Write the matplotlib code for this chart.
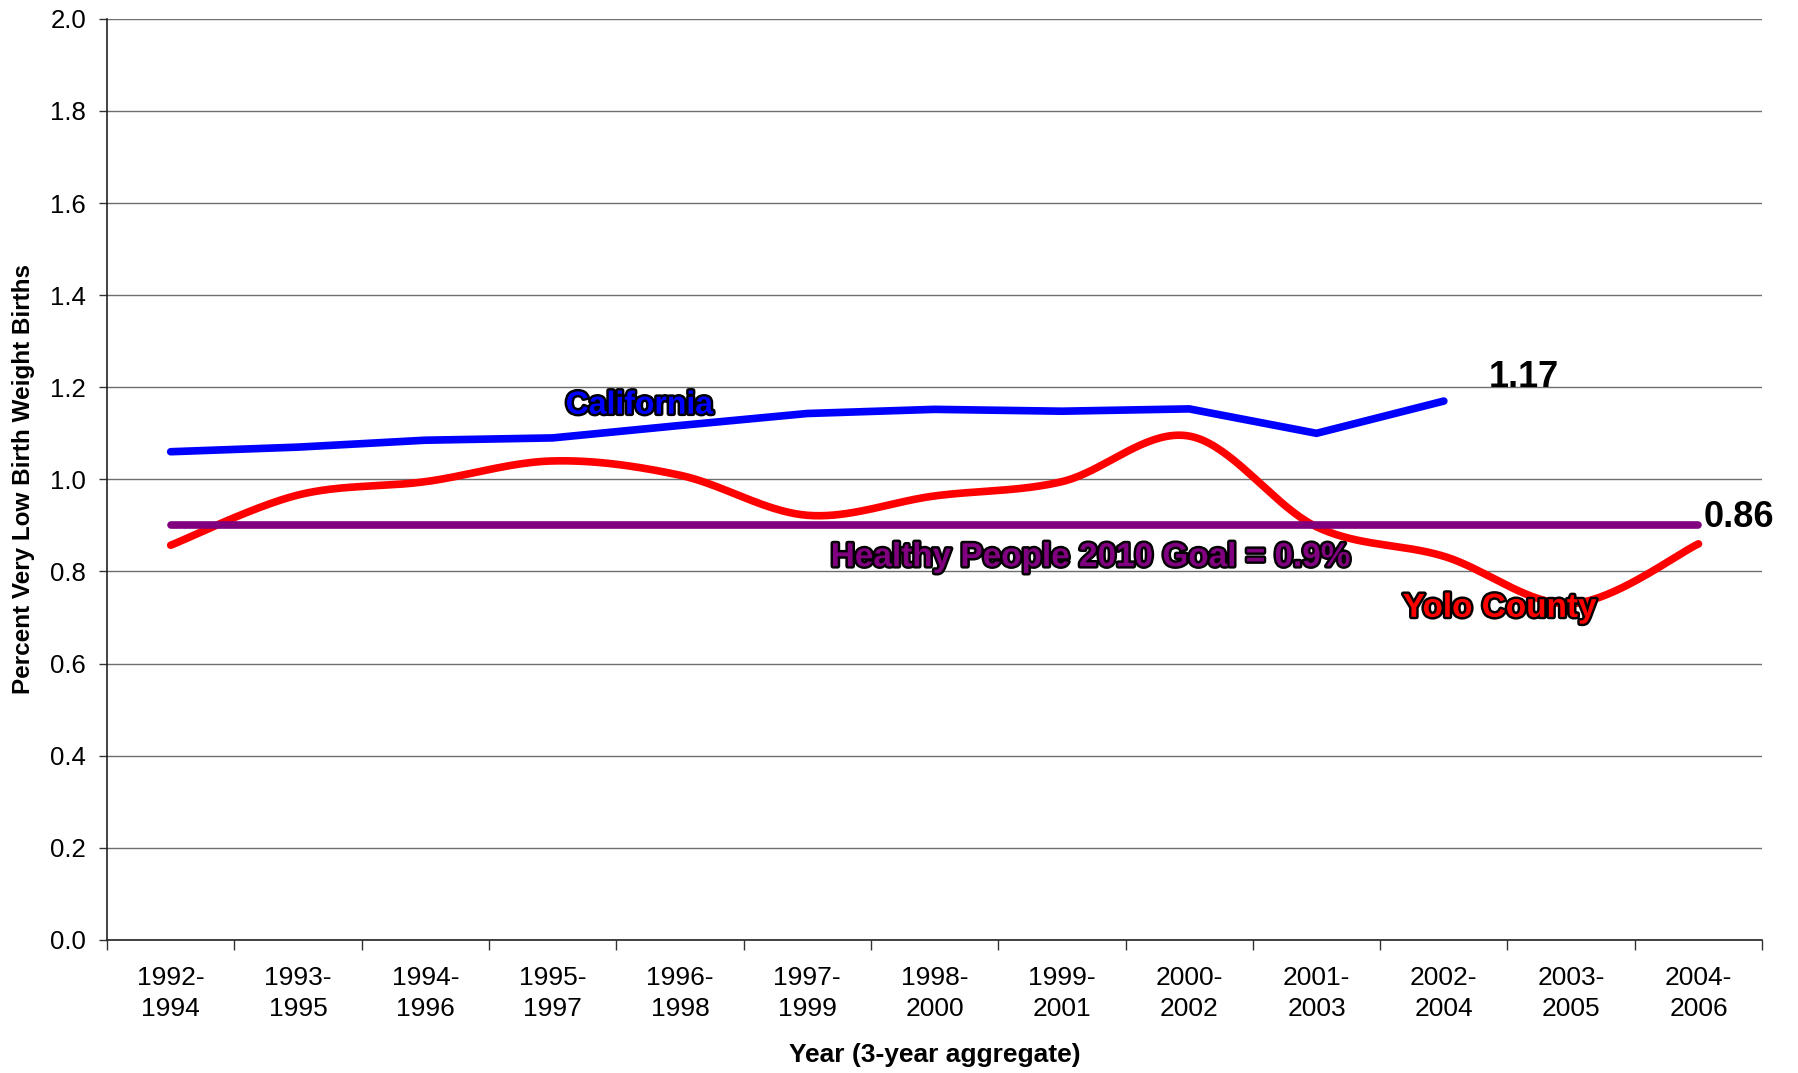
import numpy as np
import matplotlib
matplotlib.use("Agg")
import matplotlib.pyplot as plt
import matplotlib.patheffects as pe
from matplotlib.ticker import FixedLocator, MultipleLocator

# ─── Data ────────────────────────────────────────────────────────────────────
periods = ["1992-\n1994", "1993-\n1995", "1994-\n1996", "1995-\n1997",
           "1996-\n1998", "1997-\n1999", "1998-\n2000", "1999-\n2001",
           "2000-\n2002", "2001-\n2003", "2002-\n2004", "2003-\n2005",
           "2004-\n2006"]
california = [1.06, 1.07, 1.085, 1.09, 1.117, 1.143, 1.152, 1.148, 1.153,
              1.10, 1.17]
yolo = [0.857, 0.966, 0.995, 1.04, 1.009, 0.922, 0.964, 0.995, 1.094,
        0.897, 0.833, 0.73, 0.86]
hp_goal = 0.9

SANS = ["Liberation Sans", "DejaVu Sans"]
NARROW = ["Liberation Sans Narrow", "Liberation Sans", "DejaVu Sans"]


def _smooth(xs, ys, n=40):
    """Excel-style smoothed line: cubic Bezier with 1/6 tangents."""
    pts = np.column_stack([xs, ys]).astype(float)
    ext = np.vstack([pts[0], pts, pts[-1]])
    t = np.linspace(0, 1, n)[:, None]
    out = []
    for i in range(len(pts) - 1):
        p0, p1, p2, p3 = ext[i], ext[i + 1], ext[i + 2], ext[i + 3]
        c1 = p1 + (p2 - p0) / 6
        c2 = p2 - (p3 - p1) / 6
        seg = ((1 - t) ** 3 * p1 + 3 * (1 - t) ** 2 * t * c1
               + 3 * (1 - t) * t ** 2 * c2 + t ** 3 * p2)
        out.append(seg if i == 0 else seg[1:])
    return np.vstack(out)


# ─── Figure ──────────────────────────────────────────────────────────────────
fig = plt.figure(figsize=(17.99, 10.73), dpi=100)
ax = fig.add_axes([0.0595, 0.124, 0.92, 0.8585])

x = np.arange(len(periods))

ax.plot(x[:len(california)], california, color="#0000FF", lw=5.5,
        solid_capstyle="round", solid_joinstyle="miter", zorder=3)
yl = _smooth(x, yolo)
ax.plot(yl[:, 0], yl[:, 1], color="#FF0000", lw=5.5,
        solid_capstyle="round", zorder=3)
ax.plot([x[0], x[-1]], [hp_goal, hp_goal], color="#800080", lw=5.5,
        solid_capstyle="round", zorder=4)

# ── Labels on the lines ──────────────────────────────────────────────────────
outline = [pe.withStroke(linewidth=3.5, foreground="black")]
ax.text(3.68, 1.16, "California", color="#0000FF", fontsize=23,
        fontweight="bold", family=NARROW, ha="center", va="center",
        path_effects=outline, zorder=6)
ax.text(7.23, 0.83, "Healthy People 2010 Goal = 0.9%", color="#800080",
        fontsize=24, fontweight="bold", family=NARROW, ha="center",
        va="center", path_effects=outline, zorder=6)
ax.text(10.44, 0.72, "Yolo County", color="#FF0000", fontsize=24,
        fontweight="bold", family=SANS, ha="center", va="center",
        path_effects=outline, zorder=6)
ax.text(10.63, 1.222, f"{california[-1]:.2f}", color="black", fontsize=26,
        fontweight="bold", family=SANS, ha="center", va="center", zorder=6)
ax.text(12.04, 0.917, f"{yolo[-1]:.2f}", color="black", fontsize=26,
        fontweight="bold", family=SANS, ha="left", va="center", zorder=6,
        clip_on=False)

# ── Axes ─────────────────────────────────────────────────────────────────────
ax.set_xlim(-0.5, len(periods) - 0.5)
ax.set_ylim(0, 2.0)
ax.yaxis.set_major_locator(MultipleLocator(0.2))
ax.yaxis.set_major_formatter(matplotlib.ticker.FormatStrFormatter("%.1f"))
ax.set_xticks(x)
ax.set_xticklabels(periods, family=SANS, fontsize=19, linespacing=1.35)
ax.xaxis.set_minor_locator(FixedLocator(np.arange(-0.5, len(periods), 1.0)))
ax.tick_params(axis="x", which="major", length=0, pad=19)
ax.tick_params(axis="x", which="minor", length=7, width=1, color="#333333")
ax.tick_params(axis="y", length=6, width=1, pad=9, labelsize=18.5,
               color="#333333")
for lab in ax.get_yticklabels():
    lab.set_family(SANS)

ax.grid(axis="y", color="#6e6e6e", lw=1, zorder=0)
ax.set_axisbelow(True)
for side in ("top", "right"):
    ax.spines[side].set_visible(False)
for side in ("left", "bottom"):
    ax.spines[side].set_color("#222222")
    ax.spines[side].set_linewidth(1.2)

ax.set_xlabel("Year (3-year aggregate)", family=SANS, fontsize=19,
              fontweight="bold")
ax.xaxis.set_label_coords(0.5, -0.125)
ax.xaxis.label.set_va("center")
ax.set_ylabel("Percent Very Low Birth Weight Births", family=SANS,
              fontsize=17.5, fontweight="bold")
ax.yaxis.set_label_coords(-0.0505, 0.5)
ax.yaxis.label.set_va("center")

fig.savefig("out.png", dpi=100, facecolor="white")
